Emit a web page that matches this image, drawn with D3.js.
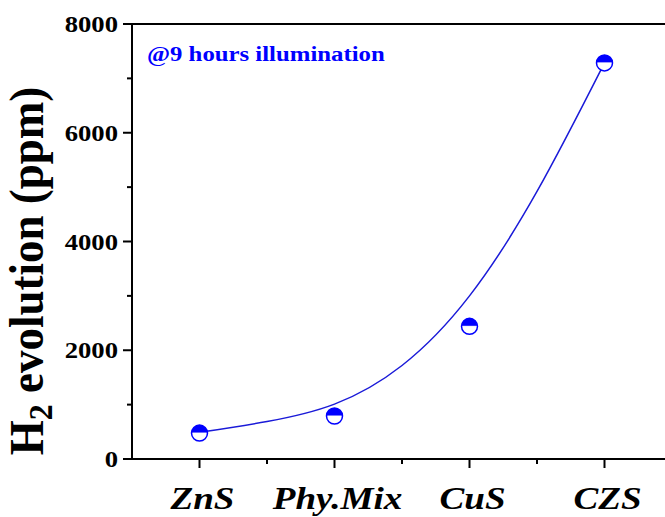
<!DOCTYPE html>
<html lang="en">

<body style="margin:0;background:#fff">
    <script src='https://d3js.org/d3.v7.min.js'></script>

    <script>
        // samples and measured H2 (ppm)
        const categories = ["ZnS", "Phy.Mix", "CuS", "CZS"];
        const h2Values = [477, 790, 2440, 7285];

        // fitted curve
        const fitX = [1, 1.5, 2, 2.5, 3, 3.5, 4];
        const fitY = [490, 690, 1010, 1720, 3000, 4920, 7285];

        const yTicks = [0, 2000, 4000, 6000, 8000];
        const yMinor = [1000, 3000, 5000, 7000];
        const xMinor = [1.5, 2.5, 3.5, 4.5];

        const width = 665;
        const height = 517;
        const stretch = 1.16; // figure text is a little wider than tall
        const blue = "#0000ff";

        var svg = d3.select("body")
            .append("svg")
            .attr("width", width)
            .attr("height", height)
            .style("font-family", "'Liberation Serif', 'Times New Roman', serif");

        var x = d3.scaleLinear().domain([0.5, 4.5]).range([132, 672]);
        var y = d3.scaleLinear().domain([0, 8000]).range([459, 24]);

        // frame: left, top, bottom
        svg.append("line").attr("x1", x(0.5)).attr("x2", x(0.5)).attr("y1", y(8000)).attr("y2", y(0))
            .attr("stroke", "#000").attr("stroke-width", 2);
        svg.append("line").attr("x1", x(0.5) - 9).attr("x2", width).attr("y1", y(8000)).attr("y2", y(8000))
            .attr("stroke", "#000").attr("stroke-width", 2);
        svg.append("line").attr("x1", x(0.5) - 9).attr("x2", width).attr("y1", y(0)).attr("y2", y(0))
            .attr("stroke", "#000").attr("stroke-width", 2);

        // y ticks
        svg.selectAll(".ymaj").data(yTicks).enter().append("line")
            .attr("x1", x(0.5) - 9).attr("x2", x(0.5))
            .attr("y1", function (d) { return y(d); }).attr("y2", function (d) { return y(d); })
            .attr("stroke", "#000").attr("stroke-width", 2);
        svg.selectAll(".ymin").data(yMinor).enter().append("line")
            .attr("x1", x(0.5) - 5).attr("x2", x(0.5))
            .attr("y1", function (d) { return y(d); }).attr("y2", function (d) { return y(d); })
            .attr("stroke", "#000").attr("stroke-width", 2);
        svg.selectAll(".ylab").data(yTicks).enter().append("text")
            .attr("transform", function (d) { return "translate(118," + (y(d) + 8) + ") scale(" + stretch + ",1)"; })
            .attr("text-anchor", "end")
            .attr("font-size", 23)
            .attr("font-weight", "bold")
            .text(function (d) { return d; });

        // x ticks
        svg.selectAll(".xmaj").data(categories).enter().append("line")
            .attr("x1", function (d, i) { return x(i + 1); }).attr("x2", function (d, i) { return x(i + 1); })
            .attr("y1", y(0)).attr("y2", y(0) + 9)
            .attr("stroke", "#000").attr("stroke-width", 2);
        svg.selectAll(".xmin").data(xMinor).enter().append("line")
            .attr("x1", function (d) { return x(d); }).attr("x2", function (d) { return x(d); })
            .attr("y1", y(0)).attr("y2", y(0) + 5)
            .attr("stroke", "#000").attr("stroke-width", 2);
        svg.selectAll(".xlab").data(categories).enter().append("text")
            .attr("transform", function (d, i) { return "translate(" + (x(i + 1) + 3) + ",509) scale(" + stretch + ",1)"; })
            .attr("text-anchor", "middle")
            .attr("font-size", 32)
            .attr("font-weight", "bold")
            .attr("font-style", "italic")
            .text(function (d) { return d; });

        // y axis title
        var yt = svg.append("text")
            .attr("transform", "translate(43,271) scale(1.07,1) rotate(-90)")
            .attr("text-anchor", "middle")
            .attr("font-size", 45)
            .attr("font-weight", "bold");
        yt.append("tspan").text("H");
        yt.append("tspan").attr("font-size", 32).attr("dy", 8).text("2");
        yt.append("tspan").attr("dy", -8).text(" evolution (ppm)");

        // annotation
        svg.append("text")
            .attr("transform", "translate(147,61) scale(1.18,1)")
            .attr("font-size", 21)
            .attr("font-weight", "bold")
            .attr("fill", blue)
            .text("@9 hours illumination");

        // fit curve
        var line = d3.line()
            .x(function (d, i) { return x(fitX[i]); })
            .y(function (d) { return y(d); })
            .curve(d3.curveNatural);
        svg.append("path")
            .datum(fitY)
            .attr("d", line)
            .attr("fill", "none")
            .attr("stroke", "#1a1ad8")
            .attr("stroke-width", 1.5);

        // half-filled circle markers
        var r = 8;
        var pts = svg.selectAll(".pt").data(h2Values).enter().append("g")
            .attr("transform", function (d, i) { return "translate(" + x(i + 1) + "," + y(d) + ")"; });
        pts.append("circle").attr("r", r).attr("fill", "#fff");
        pts.append("path")
            .attr("d", d3.arc().innerRadius(0).outerRadius(r).startAngle(-Math.PI / 2).endAngle(Math.PI / 2))
            .attr("fill", blue);
        pts.append("line").attr("x1", -r).attr("x2", r).attr("y1", 0).attr("y2", 0)
            .attr("stroke", "#fff").attr("stroke-width", 1);
        pts.append("circle").attr("r", r).attr("fill", "none").attr("stroke", blue).attr("stroke-width", 1.5);
    </script>

</body>

</html>
